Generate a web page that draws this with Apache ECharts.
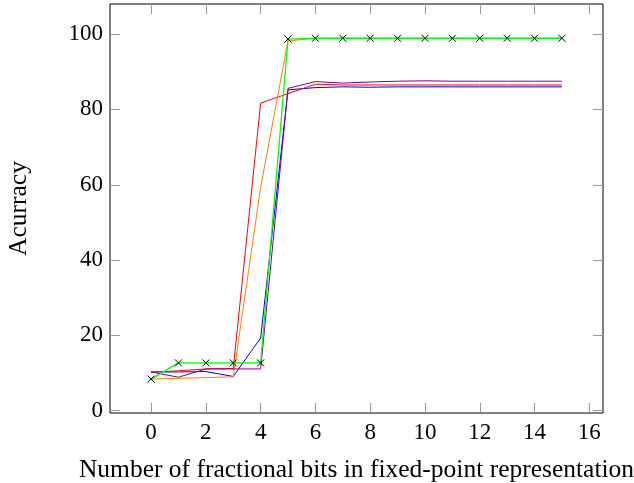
<!DOCTYPE html>
<html>
<head>
<meta charset="utf-8">
<script src="https://cdn.jsdelivr.net/npm/echarts@6/dist/echarts.min.js"></script>
<style>
  html, body { margin: 0; padding: 0; background: #fff; }
  #chart { width: 634px; height: 483px; }
</style>
</head>
<body>
<div id="chart"></div>
<script>
// fractional bits (x) and accuracy per run
const bits = [0, 1, 2, 3, 4, 5, 6, 7, 8, 9, 10, 11, 12, 13, 14, 15];

const blueAcc   = [10.3, 10.3, 10.4, 9.1, 19.3, 85.2, 85.8, 86.0, 85.9, 86.0, 86.0, 86.0, 86.0, 86.0, 86.0, 86.0];
const redAcc    = [10.2, 10.6, 11.1, 11.2, 81.7, 84.2, 86.7, 86.5, 86.5, 86.5, 86.5, 86.5, 86.5, 86.5, 86.5, 86.5];
const orangeAcc = [8.4, 8.6, 8.8, 9.0, 59.3, 98.2, 98.9, 98.9, 98.9, 98.9, 98.9, 98.9, 98.9, 98.9, 98.9, 98.9];
const purpleAcc = [10.3, 8.9, 11.1, 11.1, 11.1, 85.6, 87.4, 87.0, 87.3, 87.5, 87.6, 87.5, 87.5, 87.5, 87.5, 87.5];
const greenAcc  = [8.4, 12.7, 12.7, 12.7, 12.7, 98.7, 98.9, 98.9, 98.9, 98.9, 98.9, 98.9, 98.9, 98.9, 98.9, 98.9];

const xTicks = [0, 2, 4, 6, 8, 10, 12, 14, 16];
const yTicks = [0, 20, 40, 60, 80, 100];

const FONT = 'Liberation Serif';

const pairs = (ys) => bits.map((x, i) => [x, ys[i]]);

function lineSeries(ys, color, withMarks) {
  return {
    type: 'line',
    data: pairs(ys),
    lineStyle: { color: color, width: withMarks ? 1.3 : 1 },
    itemStyle: { color: color },
    symbol: withMarks ? 'path://M0,0L10,10M0,10L10,0' : 'none',
    symbolSize: 7,
    showAllSymbol: true,
    z: withMarks ? 5 : 2
  };
}

const tickStyle = { show: true, inside: true, length: 10, lineStyle: { color: '#999', width: 1 } };

function xAxis(pos, labels) {
  return {
    type: 'value', position: pos, min: -1.5, max: 16.5,
    axisLine: { show: false, onZero: false }, splitLine: { show: false },
    axisTick: Object.assign({ customValues: xTicks }, tickStyle),
    axisLabel: { show: labels, customValues: xTicks, fontFamily: FONT, fontSize: 23, color: '#000', margin: 8 },
    name: labels ? 'Number of fractional bits in fixed-point representation' : '',
    nameLocation: 'middle', nameGap: 44,
    nameTextStyle: { fontFamily: FONT, fontSize: 25.5, color: '#000' }
  };
}

function yAxis(pos, labels) {
  return {
    type: 'value', position: pos, min: -0.6, max: 108,
    axisLine: { show: false, onZero: false }, splitLine: { show: false },
    axisTick: Object.assign({ customValues: yTicks }, tickStyle),
    axisLabel: { show: labels, customValues: yTicks, fontFamily: FONT, fontSize: 23, color: '#000', margin: 7 },
    name: labels ? 'Acurracy' : '',
    nameLocation: 'middle', nameGap: 78,
    nameTextStyle: { fontFamily: FONT, fontSize: 25.5, color: '#000' }
  };
}

const chart = echarts.init(document.getElementById('chart'), null, { renderer: 'canvas' });
chart.setOption({
  animation: false,
  backgroundColor: '#fff',
  grid: {
    left: 110, right: 31, top: 4, bottom: 70, outerBoundsMode: 'none',
    show: true, borderColor: '#000', borderWidth: 1, backgroundColor: 'transparent'
  },
  xAxis: [xAxis('bottom', true), xAxis('top', false)],
  yAxis: [yAxis('left', true), yAxis('right', false)],
  series: [
    lineSeries(blueAcc, '#0000ff', false),
    lineSeries(redAcc, '#ff0000', false),
    lineSeries(orangeAcc, '#ff8000', false),
    lineSeries(purpleAcc, '#800080', false),
    Object.assign(lineSeries(greenAcc, '#00ff00', true), {
      itemStyle: { color: 'none', borderColor: '#000', borderWidth: 1 }
    })
  ]
});
</script>
</body>
</html>
